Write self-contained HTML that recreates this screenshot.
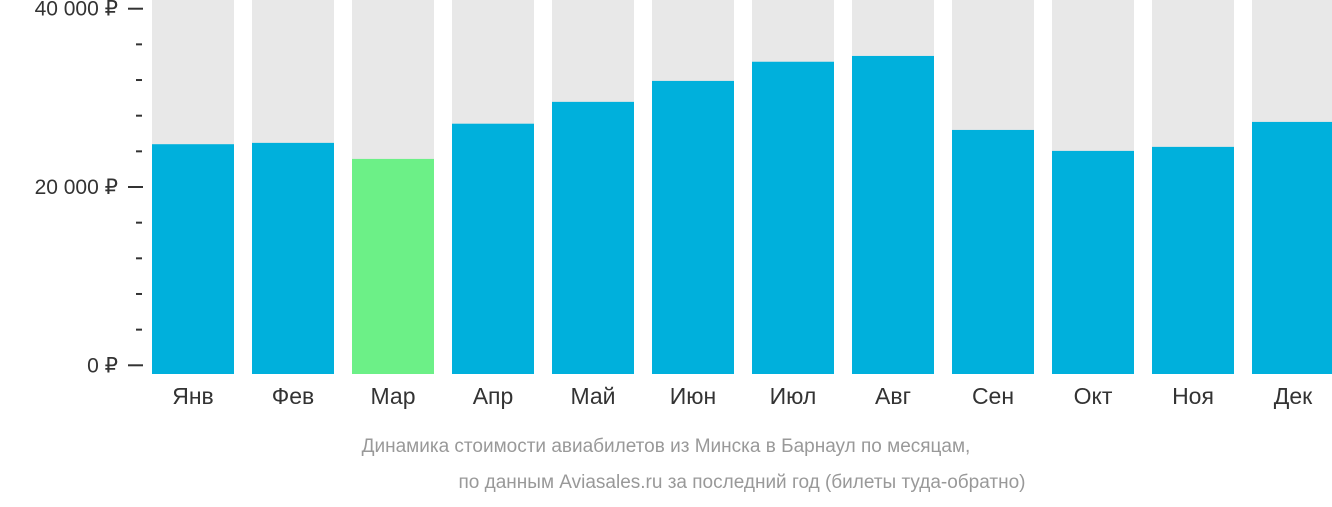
<!DOCTYPE html>
<html><head><meta charset="utf-8"><style>
body{margin:0;background:#fff;width:1332px;height:502px;overflow:hidden;font-family:"Liberation Sans","DejaVu Sans",sans-serif}
</style></head><body>
<svg width="1332" height="502" id="chart">
<text x="666" y="452" text-anchor="middle" font-size="19" fill="#999">Динамика стоимости авиабилетов из Минска в Барнаул по месяцам,</text>
<text x="742" y="488" text-anchor="middle" font-size="19" fill="#999">по данным Aviasales.ru за последний год (билеты туда-обратно)</text>
</svg>
<script>
const months=["Янв","Фев","Мар","Апр","Май","Июн","Июл","Авг","Сен","Окт","Ноя","Дек"];
const prices=[24800,24950,23150,27100,29550,31900,34050,34700,26400,24050,24500,27300];
const cheapest=[false,false,true,false,false,false,false,false,false,false,false,false];
const tickValues=[0,20000,40000];
const tickLabels=["0 ₽","20 000 ₽","40 000 ₽"];
const minorTicks=[4000,8000,12000,16000,24000,28000,32000,36000];
const NS="http://www.w3.org/2000/svg";
const svg=document.getElementById('chart');
function y(v){return 365.3-v*(356.6/40000);}
function x(i){return 152+i*100;}
const base=374,bw=82;
function mk(t,a){const e=document.createElementNS(NS,t);for(const k in a)e.setAttribute(k,a[k]);svg.appendChild(e);return e;}
months.forEach((m,i)=>{
 const bg=mk('rect',{x:x(i),y:0,width:bw,height:base,fill:'#e8e8e8'});
 
 
 const b=mk('rect',{x:x(i),y:y(prices[i]),width:bw,height:base-y(prices[i]),fill:cheapest[i]?'#6cf087':'#00b0dc'});
 
 
 const t=mk('text',{x:x(i)+bw/2,y:404,'text-anchor':'middle','font-size':23,fill:'#333'});
 t.textContent=m;
 
 
});
tickValues.forEach((v,i)=>{
 const l=mk('line',{x1:128,x2:143,y1:y(v),y2:y(v),stroke:'#333','stroke-width':2});
 
 
 const t=mk('text',{x:118,y:y(v)+7,'text-anchor':'end','font-size':21,fill:'#333'});
 t.textContent=tickLabels[i];
 
 
});
minorTicks.forEach(v=>{
 const l=mk('line',{x1:136,x2:142,y1:y(v),y2:y(v),stroke:'#333','stroke-width':2});
 
 
});
</script>
</body></html>
